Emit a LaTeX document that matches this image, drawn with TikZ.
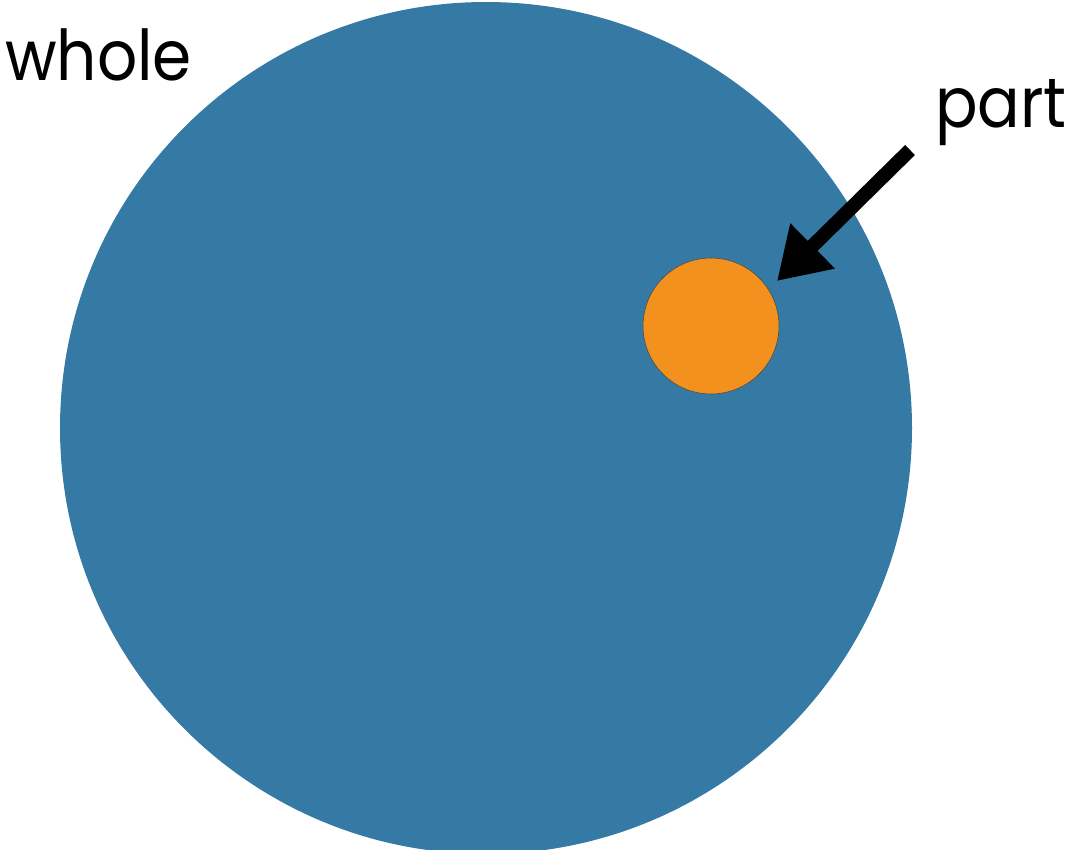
\documentclass[tikz,border=0pt]{standalone}
\usepackage{fontspec}
\setmainfont{Poppins}
\usetikzlibrary{arrows.meta}
\definecolor{wholeblue}{RGB}{52,122,165}
\definecolor{partorange}{RGB}{242,145,30}
\newcommand{\narrowtxt}[1]{\scalebox{0.9}[1]{#1}}
\begin{document}
\begin{tikzpicture}[x=1pt,y=-1pt,
  lbl/.style={font=\fontsize{70}{70}\selectfont, inner sep=0pt, anchor=base west},
  wholecirc/.style={circle, fill=wholeblue, minimum size=852pt, inner sep=0pt},
  partcirc/.style={circle, fill=partorange, draw=black!70, line width=0.6pt, minimum size=136pt, inner sep=0pt},
  bigarrow/.style={line width=14pt, -{Triangle[length=50pt,width=60pt]}}]
\useasboundingbox[clip] (0,0) rectangle (1067,849);
\node[wholecirc] (whole) at (486,428) {};
\node[partcirc] (part) at (711,326) {};
\node[lbl] (wholelbl) at (5,80) {\narrowtxt{whole}};
\node[lbl] (partlbl) at (935,127) {\narrowtxt{part}};
\coordinate (tail) at (910,150);
\coordinate (tip) at (777,281);
\draw[bigarrow] (tail) -- (tip);
\end{tikzpicture}
\end{document}
